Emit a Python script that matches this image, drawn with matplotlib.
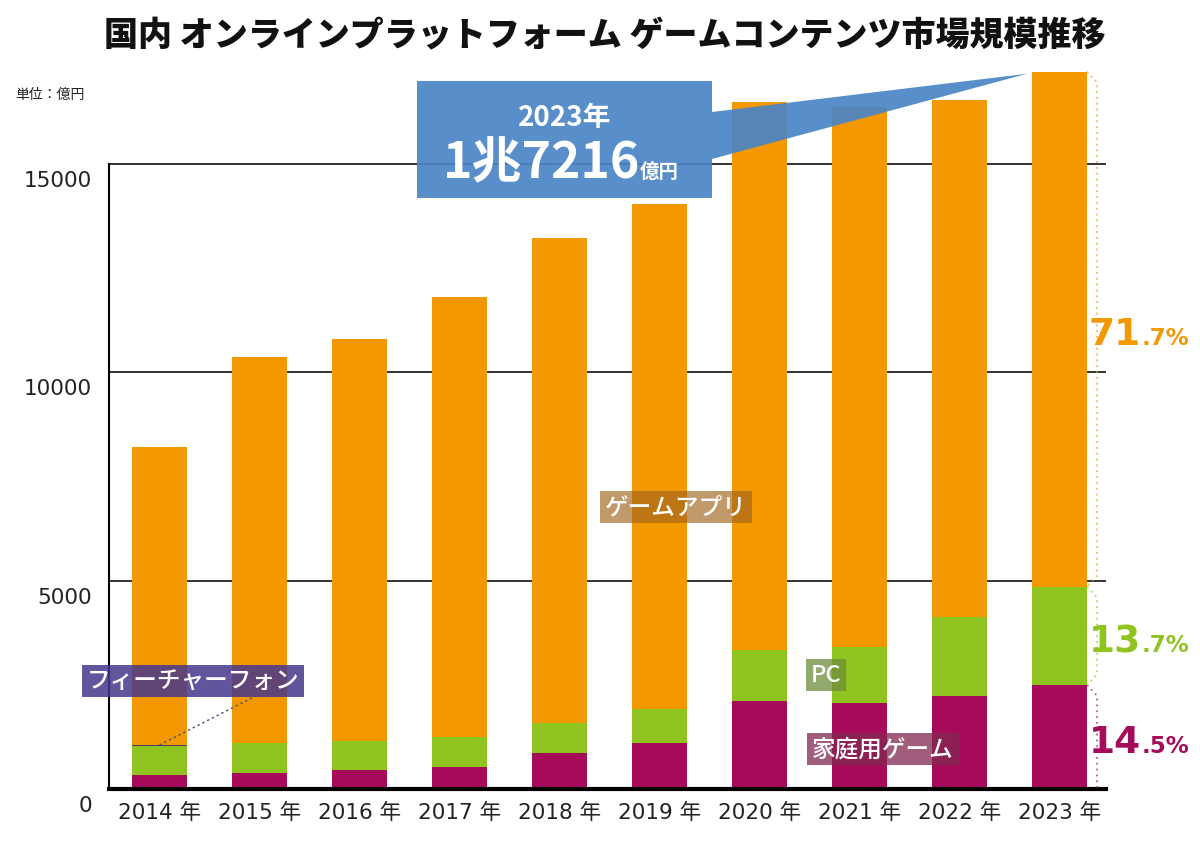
import numpy as np
import matplotlib.pyplot as plt
from matplotlib.patches import Polygon
from matplotlib.transforms import ScaledTranslation

plt.rcParams['font.family'] = ['Noto Sans CJK JP', 'DejaVu Sans']

# market size by segment, 億円
years = [2014, 2015, 2016, 2017, 2018, 2019, 2020, 2021, 2022, 2023]
console = [336, 384, 456, 528, 864, 1104, 2112, 2064, 2232, 2496]
pc = [696, 720, 696, 720, 720, 816, 1224, 1344, 1896, 2359]
fphone = [24, 0, 0, 0, 0, 0, 0, 0, 0, 0]
app = [7152, 9264, 9648, 10560, 11640, 12120, 13152, 12960, 12408, 12361]

share_2023 = ['14.5', '13.7', '71.7']   # console, pc, app
total_2023 = '1兆7216'

c_app = '#f39800'
c_pc = '#8fc31f'
c_con = '#a60b5a'
c_fp = '#4a3b6b'
num_font = ['DejaVu Sans', 'Noto Sans CJK JP']

fig = plt.figure(figsize=(12, 8.45), dpi=100)
ax = fig.add_axes([0.0908, 0.0651, 0.8309, 0.858])

x = np.arange(len(years))
w = 0.55
b1 = np.array(console)
b2 = b1 + np.array(pc)
b3 = b2 + np.array(fphone)
tot = b3 + np.array(app)

ax.bar(x, console, w, color=c_con, zorder=2)
ax.bar(x, pc, w, bottom=b1, color=c_pc, zorder=2)
ax.bar(x, fphone, w, bottom=b2, color=c_fp, zorder=2)
ax.bar(x, app, w, bottom=b3, color=c_app, zorder=2)

ax.set_xlim(-0.505, 9.465)
ax.set_ylim(0, 17400)
ax.set_yticks([0, 5000, 10000, 15000])
ax.set_xticks(x)
ax.set_xticklabels([f'{y} 年' for y in years], family=num_font)
ax.set_yticklabels(['0', '5000', '10000', '15000'], family=num_font)
ax.yaxis.grid(True, color='#333333', lw=1.4)
ax.set_axisbelow(True)
ax.tick_params(axis='y', length=0, pad=12, labelsize=15.5, labelcolor='#222222')
ax.tick_params(axis='x', length=0, pad=9, labelsize=15.5, labelcolor='#222222')
off = ScaledTranslation(0, -10 / 72, fig.dpi_scale_trans)
for lab in ax.get_yticklabels():
    lab.set_transform(lab.get_transform() + off)

for s in ['top', 'right']:
    ax.spines[s].set_visible(False)
ax.spines['left'].set_linewidth(1.5)
ax.spines['left'].set_bounds(0, 15000)
ax.spines['bottom'].set_linewidth(3)

# category labels
def tag(xx, yy, s, fc, fs=17):
    ax.text(xx, yy, s, color='white', fontsize=fs, fontweight='medium',
            ha='center', va='center', zorder=6,
            bbox=dict(boxstyle='square,pad=0.2', fc=fc, ec='none'))

tag(x[5] + 0.165, 6770, 'ゲームアプリ', (160/255, 100/255, 30/255, 0.65))
tag(x[0] + 0.335, 2590, 'フィーチャーフォン', (70/255, 55/255, 140/255, 0.85))
tag(x[6] + 0.665, 2740, 'PC', (110/255, 140/255, 60/255, 0.75))
tag(x[7] + 0.235, 960, '家庭用ゲーム', (130/255, 40/255, 80/255, 0.75))
ax.plot([x[0], x[1]], [b3[0], 2280], ls=(0, (1.5, 2)), color='#555577', lw=1.1, zorder=5)

# callout for 2023 total
tip = (x[9] - 0.325, tot[9] - 50)
pts = [(2.575, 16992), (5.525, 16992), (5.525, 16248), tip,
       (5.525, 15120), (5.525, 14184), (2.575, 14184)]
ax.add_patch(Polygon(pts, closed=True, fc='#4a84c6', ec='none', alpha=0.92, zorder=7))
ax.text(4.055, 16128, '2023年', color='white', fontsize=20, fontweight='bold',
        ha='center', va='center', zorder=8)
ax.text(4.805, 14688, total_2023, color='white', fontsize=36, fontweight='bold',
        ha='right', va='baseline', zorder=8)
ax.text(4.805, 14688, '億円', color='white', fontsize=14, fontweight='bold',
        ha='left', va='baseline', zorder=8)

# brackets and shares on the right of 2023
xe = x[9] + w / 2
xo = x[9] + 0.375
d = 260
segs = [(0, b1[9], c_con), (b1[9], b2[9], c_pc), (b2[9], tot[9], c_app)]
tr = ax.transData + ScaledTranslation(0, -11 / 72, fig.dpi_scale_trans)
for (lo, hi, c), sh in zip(segs, share_2023):
    if lo > 0:
        xs, ys = [xe, xo, xo, xe], [hi, hi - d, lo + d, lo]
    else:
        xs, ys = [xe, xo, xo], [hi, hi - d, lo]
    ax.plot(xs, ys, ls=(0, (1, 2)), color=c, alpha=0.6, lw=1.4, clip_on=False, zorder=3)
    mid = (lo + hi) / 2
    big, small = sh.split('.')
    ax.text(xo + 0.44, mid, big, color=c, fontsize=27, fontweight='bold',
            family='DejaVu Sans', ha='right', va='baseline', transform=tr, clip_on=False)
    ax.text(xo + 0.45, mid, '.' + small + '%', color=c, fontsize=16.5, fontweight='bold',
            family='DejaVu Sans', ha='left', va='baseline', transform=tr, clip_on=False)

fig.text(0.504, 0.958, '国内 オンラインプラットフォーム ゲームコンテンツ市場規模推移',
         ha='center', va='center', fontsize=24.5, fontweight='heavy', color='#111111')
fig.text(15 / 1200, 1 - 95 / 845, '単位：億円', fontsize=10, va='center', color='#222222')

fig.savefig('out.png', dpi=100)
